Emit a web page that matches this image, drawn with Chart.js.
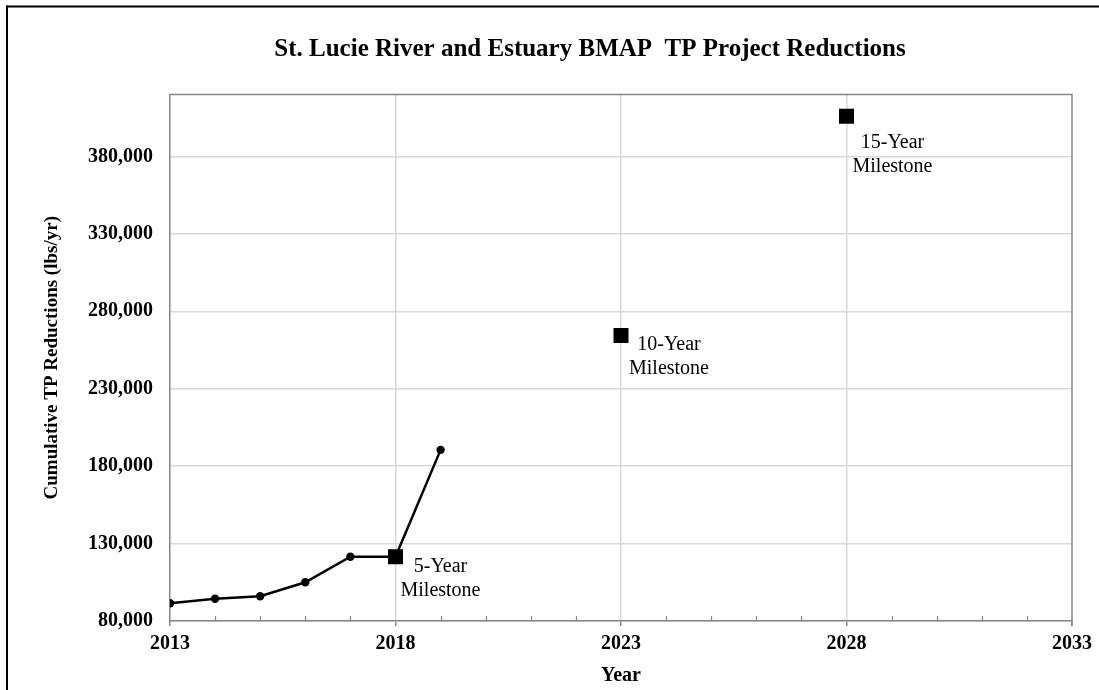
<!DOCTYPE html>
<html><head><meta charset="utf-8">
<script src="https://cdn.jsdelivr.net/npm/chart.js@4.4.0/dist/chart.umd.min.js"></script>
<style>html,body{margin:0;padding:0;background:#fff;overflow:hidden}</style>
</head><body>
<canvas id="c" width="1099" height="690"></canvas>
<script>
// ---- data ----
const years = [2013, 2014, 2015, 2016, 2017, 2018, 2019];
const cumulativeReductions = [91500, 94400, 96000, 105000, 121500, 121500, 190500];
const milestoneYears = [2018, 2023, 2028];
const milestoneTargets = [121500, 264300, 406000];
const milestoneLabels = [['5-Year', 'Milestone'], ['10-Year', 'Milestone'], ['15-Year', 'Milestone']];
const xTickLabels = [2013, 2018, 2023, 2028, 2033];
const yTickLabels = [80000, 130000, 180000, 230000, 280000, 330000, 380000];
const chartTitle = 'St. Lucie River and Estuary BMAP  TP Project Reductions';
const xAxisTitle = 'Year';
const yAxisTitle = 'Cumulative TP Reductions (lbs/yr)';

// ---- styling ----
const FONT = "'Liberation Serif', 'Times New Roman', serif";
const GRID = '#d9d9d9';
const AXIS = '#868686';
// label offsets relative to each milestone marker: [dx, baseline dy line1, line2]
const labelOffsets = [[45, 15.5, 39.5], [48, 14.5, 38.5], [46, 31.5, 56]];

const decor = {
  id: 'decor',
  beforeDraw(chart) {
    const ctx = chart.ctx;
    ctx.save();
    ctx.fillStyle = '#fff';
    ctx.fillRect(0, 0, chart.width, chart.height);
    ctx.fillStyle = '#000';
    ctx.fillRect(6, 5.5, chart.width, 2);
    ctx.fillRect(6, 5.5, 2, chart.height);
    // chart title
    ctx.font = 'bold 25px ' + FONT;
    ctx.textAlign = 'center';
    ctx.textBaseline = 'alphabetic';
    ctx.fillText(chartTitle, 590, 56);
    ctx.restore();
  },
  beforeDatasetsDraw(chart) {
    const {ctx, chartArea: a, scales: {x}} = chart;
    ctx.save();
    ctx.strokeStyle = AXIS;
    ctx.lineWidth = 1.5;
    ctx.beginPath();
    ctx.moveTo(a.left, a.top); ctx.lineTo(a.right, a.top); ctx.lineTo(a.right, a.bottom + 5);
    ctx.stroke();
    // minor tick marks inside the plot
    ctx.lineWidth = 1.2;
    ctx.beginPath();
    x.ticks.forEach(t => {
      if (xTickLabels.includes(t.value)) return;
      const px = Math.round(x.getPixelForValue(t.value)) + 0.5;
      ctx.moveTo(px, a.bottom); ctx.lineTo(px, a.bottom - 5);
    });
    ctx.stroke();
    ctx.restore();
  },
  afterDatasetsDraw(chart) {
    const {ctx, scales: {x, y}} = chart;
    ctx.save();
    ctx.fillStyle = '#000';
    ctx.font = '20px ' + FONT;
    ctx.textAlign = 'center';
    ctx.textBaseline = 'alphabetic';
    milestoneLabels.forEach((lines, i) => {
      const px = x.getPixelForValue(milestoneYears[i]);
      const py = y.getPixelForValue(milestoneTargets[i]);
      const o = labelOffsets[i];
      ctx.fillText(lines[0], px + o[0], py + o[1]);
      ctx.fillText(lines[1], px + o[0], py + o[2]);
    });
    ctx.restore();
  }
};

new Chart(document.getElementById('c'), {
  type: 'scatter',
  data: {
    datasets: [
      {
        label: 'Milestones',
        data: milestoneYears.map((yr, i) => ({x: yr, y: milestoneTargets[i]})),
        pointStyle: 'rect',
        pointRadius: 10.6,
        backgroundColor: '#000',
        borderColor: '#000',
        borderWidth: 0,
        showLine: false,
        order: 0
      },
      {
        label: 'Cumulative TP Reductions',
        data: years.map((yr, i) => ({x: yr, y: cumulativeReductions[i]})),
        showLine: true,
        borderColor: '#000',
        borderWidth: 2.5,
        backgroundColor: '#000',
        pointRadius: 4.2,
        pointBorderWidth: 0,
        pointStyle: 'circle',
        tension: 0,
        order: 1
      }
    ]
  },
  options: {
    responsive: false,
    animation: false,
    devicePixelRatio: 1,
    layout: {padding: {left: 0, right: 27, top: 94.5, bottom: 0}},
    plugins: {
      legend: {display: false},
      tooltip: {enabled: false},
      title: {display: false}
    },
    scales: {
      x: {
        type: 'linear',
        min: 2013,
        max: 2033,
        afterBuildTicks(scale) {
          const t = [];
          for (let v = 2013; v <= 2033; v++) t.push({value: v});
          scale.ticks = t;
        },
        afterFit(scale) { scale.height = 69; },
        ticks: {
          autoSkip: false,
          maxRotation: 0,
          color: '#000',
          padding: 6,
          font: {family: FONT, size: 20, weight: 'bold'},
          callback: v => xTickLabels.includes(v) ? String(v) : ''
        },
        grid: {
          color: ctx => (ctx.tick && xTickLabels.includes(ctx.tick.value) && ctx.tick.value !== 2013 && ctx.tick.value !== 2033) ? GRID : 'rgba(0,0,0,0)',
          lineWidth: 1.5,
          drawTicks: true,
          tickLength: 5,
          tickWidth: 1.5,
          tickColor: ctx => (ctx.tick && xTickLabels.includes(ctx.tick.value)) ? AXIS : 'rgba(0,0,0,0)'
        },
        border: {color: AXIS, width: 1.5},
        title: {
          display: true,
          text: xAxisTitle,
          color: '#000',
          font: {family: FONT, size: 20, weight: 'bold', lineHeight: 1.2},
          padding: {top: 0, bottom: 2}
        }
      },
      y: {
        type: 'linear',
        min: 80000,
        max: 420000,
        afterBuildTicks(scale) {
          scale.ticks = yTickLabels.map(v => ({value: v}));
        },
        afterFit(scale) { scale.width = 170; },
        ticks: {
          color: '#000',
          padding: 17,
          font: {family: FONT, size: 20, weight: 'bold'},
          callback: v => Number(v).toLocaleString('en-US')
        },
        grid: {
          color: GRID,
          lineWidth: 1.5,
          drawTicks: false
        },
        border: {color: AXIS, width: 1.5},
        title: {
          display: true,
          text: yAxisTitle,
          color: '#000',
          font: {family: FONT, size: 19, weight: 'bold', lineHeight: 1.2},
          padding: {top: 41, bottom: 0}
        }
      }
    }
  },
  plugins: [decor]
});
</script>
</body></html>
